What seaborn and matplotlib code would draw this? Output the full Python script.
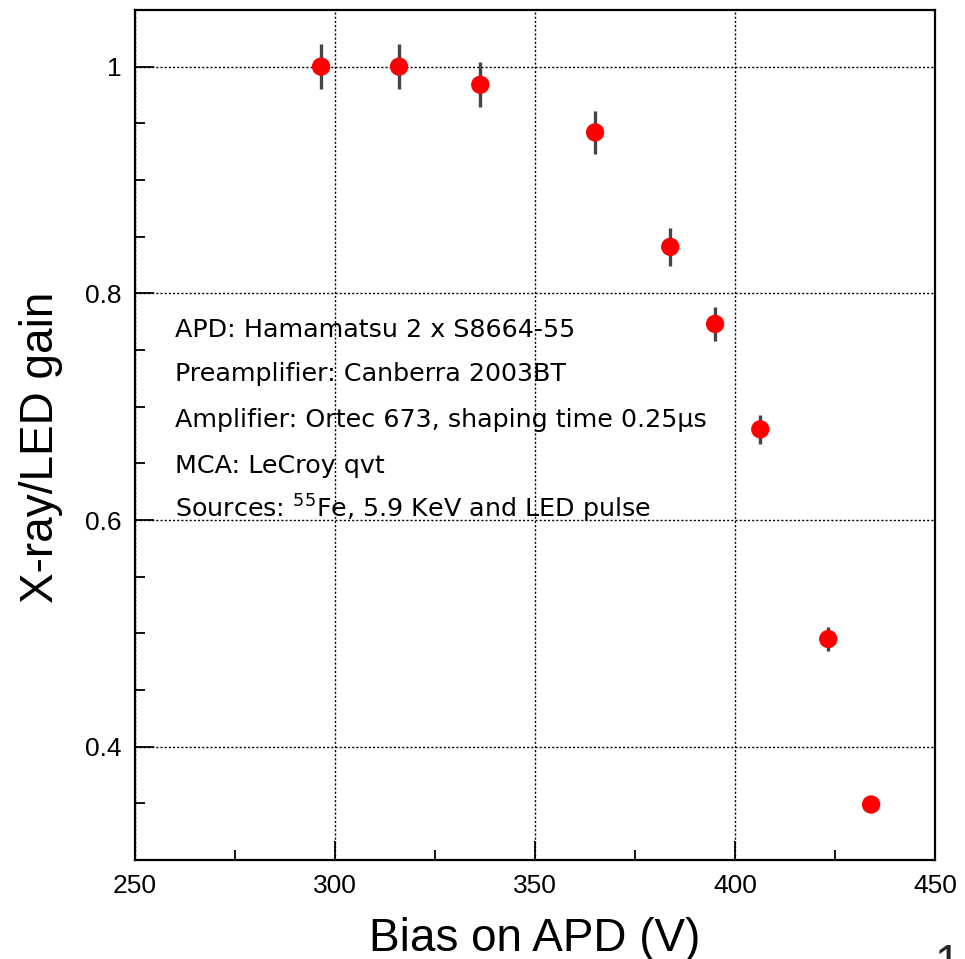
import numpy as np
import pandas as pd
import seaborn as sns
import matplotlib.pyplot as plt

# dados
bias = [296.5, 316.0, 336.3, 365.0, 383.8, 395.0, 406.3, 423.3, 434.0]
gain = [1.000, 1.000, 0.984, 0.942, 0.841, 0.773, 0.680, 0.495, 0.349]
gain_err = [0.020, 0.020, 0.020, 0.019, 0.017, 0.015, 0.013, 0.011, 0.007]

info_lines = [
    "APD: Hamamatsu 2 x S8664-55",
    "Preamplifier: Canberra 2003BT",
    "Amplifier: Ortec 673, shaping time 0.25\u00b5s",
    "MCA: LeCroy qvt",
    "Sources: $^{55}$Fe, 5.9 KeV and LED pulse",
]
info_y = [0.768, 0.729, 0.688, 0.648, 0.610]


def main():
    sns.set_style("white")
    plt.rcParams['font.family'] = ['Liberation Sans', 'DejaVu Sans']
    plt.rcParams['mathtext.fontset'] = 'dejavusans'

    df = pd.DataFrame({"bias": bias, "gain": gain, "err": gain_err})

    fig = plt.figure(figsize=(9.65, 9.59), dpi=100)
    ax = fig.add_axes([0.140, 0.1032, 0.829, 0.8864])

    # barras de erro
    ax.errorbar(df["bias"], df["gain"], yerr=df["err"], fmt="none",
                ecolor="#454545", elinewidth=2.4, capsize=0, zorder=2)
    sns.scatterplot(data=df, x="bias", y="gain", color="red", s=175,
                    edgecolor="none", ax=ax, zorder=3, legend=False)

    ax.set_xlim(250, 450)
    ax.set_ylim(0.3, 1.05)
    ax.set_xticks([250, 300, 350, 400, 450])
    ax.set_xticklabels(["250", "300", "350", "400", "450"])
    ax.set_xticks(np.arange(275, 450, 50), minor=True)
    ax.set_yticks([0.4, 0.6, 0.8, 1.0])
    ax.set_yticklabels(["0.4", "0.6", "0.8", "1"])
    ax.set_yticks(np.arange(0.30, 1.05, 0.05), minor=True)

    ax.grid(True, which="major", color="black", linestyle=(0, (1.5, 1.5)),
            linewidth=1.0)
    ax.tick_params(which="both", direction="in", left=True, bottom=True,
                   top=False, right=False, labelsize=19, width=1.3,
                   color="black", labelcolor="black")
    ax.tick_params(which="major", length=14, pad=10)
    ax.tick_params(which="minor", length=7)
    for sp in ax.spines.values():
        sp.set_color("black")
        sp.set_linewidth(1.6)

    ax.set_xlabel("Bias on APD (V)", fontsize=33, labelpad=14, color="black")
    ax.set_ylabel("X-ray/LED gain", fontsize=33, color="black")
    ax.yaxis.set_label_coords(-0.09, 0.485)

    for txt, yy in zip(info_lines, info_y):
        ax.text(260, yy, txt, fontsize=18.3, va="center", ha="left",
                color="black", family="DejaVu Sans")

    fig.text(935 / 965, 1 - 943 / 959, "14", fontsize=33, va="top", ha="left")

    fig.savefig("out.png", dpi=100)


if __name__ == "__main__":
    main()
